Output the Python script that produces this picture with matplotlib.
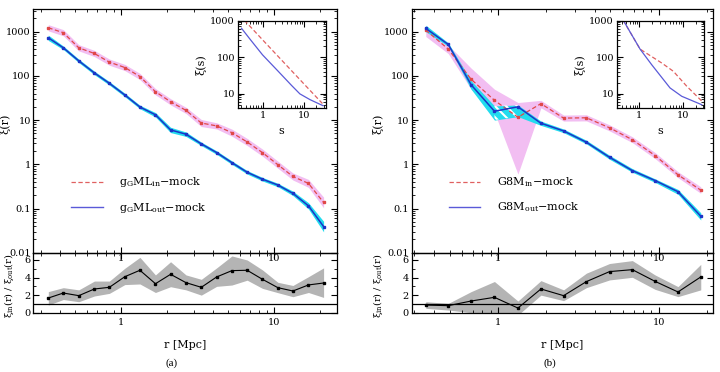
import matplotlib
matplotlib.use("Agg")
import matplotlib.pyplot as plt
import numpy as np
from matplotlib.lines import Line2D
from matplotlib.ticker import FuncFormatter, LogLocator, MultipleLocator, NullFormatter

plt.rcParams["font.family"] = ["DejaVu Serif"]
plt.rcParams["mathtext.fontset"] = "dejavuserif"
plt.rcParams["hatch.linewidth"] = 1.5

# ---- panel (a): gGML ----
r_a = [0.335, 0.42, 0.53, 0.67, 0.84, 1.06, 1.33, 1.68, 2.11, 2.66,
       3.35, 4.22, 5.31, 6.68, 8.41, 10.6, 13.3, 16.8, 21.1]
xi_in_a = [1230, 950, 433, 322, 205, 155, 97, 44, 26, 16.6,
           8.6, 7.4, 5.2, 3.2, 1.84, 0.98, 0.53, 0.37, 0.137]
xi_out_a = [730, 433, 219, 117, 68, 37, 19.8, 13.2, 6.0, 4.8,
            2.9, 1.84, 1.09, 0.66, 0.46, 0.34, 0.22, 0.115, 0.039]
# half-width of the bands, in dex
err_in_a = [0.07, 0.07, 0.07, 0.07, 0.07, 0.07, 0.07, 0.07, 0.07, 0.07,
            0.08, 0.07, 0.08, 0.08, 0.08, 0.08, 0.08, 0.09, 0.12]
err_out_a = [0.06, 0.04, 0.04, 0.04, 0.04, 0.04, 0.04, 0.05, 0.06, 0.05,
             0.04, 0.04, 0.04, 0.04, 0.04, 0.04, 0.05, 0.07, 0.12]
ratio_a = [1.67, 2.24, 1.94, 2.70, 2.89, 4.10, 4.83, 3.30, 4.37, 3.42,
           2.89, 4.07, 4.79, 4.83, 3.80, 2.85, 2.47, 3.16, 3.38]
ratio_a_hi = [2.4, 2.85, 2.6, 3.6, 3.6, 5.06, 6.3, 4.3, 5.8, 4.3,
              3.8, 5.1, 6.46, 6.0, 4.87, 3.46, 3.1, 4.1, 5.1]
ratio_a_lo = [0.87, 1.5, 1.25, 1.9, 2.2, 3.2, 3.27, 2.3, 2.96, 2.6,
              2.0, 3.0, 3.15, 3.7, 2.77, 2.28, 1.82, 2.3, 1.74]
s_in_a = [0.28, 1.0, 10.0, 28.0]
xis_in_a = [1410, 300, 18.6, 5.4]
s_out_a = [0.31, 0.5, 1.0, 2.4, 5.0, 8.0, 14.0, 29.0]
xis_out_a = [620, 310, 116, 41, 17, 9.9, 6.9, 4.7]

# ---- panel (b): G8M ----
r_b = [0.355, 0.49, 0.68, 0.95, 1.33, 1.85, 2.56, 3.55, 4.95, 6.86, 9.5, 13.2, 18.3]
xi_in_b = [1090, 404, 84, 28, 11.6, 23.6, 11.1, 11.3, 6.7, 3.6, 1.58, 0.58, 0.26]
in_b_hi = [1300, 500, 150, 50, 25, 28, 13, 13.2, 7.8, 4.2, 1.85, 0.68, 0.31]
in_b_lo = [780, 320, 50, 15, 0.6, 19, 9.5, 9.6, 5.7, 3.1, 1.35, 0.5, 0.22]
xi_out_b = [1190, 515, 63, 15.9, 20, 8.5, 5.7, 3.16, 1.44, 0.72, 0.43, 0.24, 0.067]
out_b_hi = [1400, 560, 78, 21, 22, 9.5, 6.3, 3.5, 1.6, 0.8, 0.47, 0.27, 0.08]
out_b_lo = [1000, 470, 50, 10, 12, 7.6, 5.2, 2.9, 1.3, 0.66, 0.39, 0.21, 0.055]
ratio_b = [0.87, 0.80, 1.33, 1.75, 0.53, 2.70, 1.94, 3.54, 4.68, 4.90, 3.57, 2.36, 4.07]
ratio_b_hi = [1.25, 1.06, 2.4, 3.55, 1.33, 3.65, 2.6, 4.5, 5.6, 5.93, 4.3, 2.97, 5.5]
ratio_b_lo = [0.5, 0.3, 0.0, -0.2, -0.27, 2.0, 1.37, 2.85, 3.73, 4.03, 2.66, 1.83, 2.6]
s_in_b = [0.35, 0.43, 1.04, 3.3, 6.1, 12.4, 27.5]
xis_in_b = [1500, 1000, 166, 69, 41, 16, 6.3]
s_out_b = [0.35, 0.43, 1.04, 1.93, 5.1, 9.5, 27.5]
xis_out_b = [1500, 1000, 166, 62, 14.4, 8.5, 5.0]

labels_a = ["g$_{\\rm G}$ML$_{\\rm in}$\u2212mock", "g$_{\\rm G}$ML$_{\\rm out}$\u2212mock"]
labels_b = ["G8M$_{\\rm in}$\u2212mock", "G8M$_{\\rm out}$\u2212mock"]

RED = "#e04848"
BLUE = "#1c34c8"
PINK = "#f2bef2"
CYAN = "#22dcee"
GRAY = "#b4b4b4"
LEG_RED = "#e06060"
LEG_BLUE = "#5a5ad8"

fmt = FuncFormatter(lambda v, p: f"{v:g}")


def style_log_axis(ax, size=7):
    ax.tick_params(which="both", direction="in", top=True, right=True, labelsize=size, pad=2)
    ax.tick_params(which="major", length=4.5, width=0.8)
    ax.tick_params(which="minor", length=2.2, width=0.6)
    for sp in ax.spines.values():
        sp.set_linewidth(0.9)


def panel(x0, w, r, xi_in, in_lo, in_hi, xi_out, out_lo, out_hi,
          ratio, ratio_lo, ratio_hi, xlim, inset_box, inset_xlim,
          s_in, xis_in, s_out, xis_out, labels, caption, cap_x, ylab_x, rlab_x,
          hatch_seg=None):
    ax = fig.add_axes([x0, 0.3207, w, 0.654])
    rax = fig.add_axes([x0, 0.1594, w, 0.1613])
    ax.set_zorder(3)
    ax.patch.set_alpha(0)

    ax.fill_between(r, in_lo, in_hi, color=PINK, lw=0, zorder=1)
    ax.fill_between(r, out_lo, out_hi, color=CYAN, lw=0, zorder=2)
    if hatch_seg is not None:
        i, j = hatch_seg
        ax.fill_between(r[i:j], out_lo[i:j], out_hi[i:j], facecolor="none",
                        edgecolor="white", hatch="\\\\\\", lw=0, zorder=2.5)
    ax.plot(r, xi_in, color=RED, lw=0.9, dashes=(3.5, 2), marker="s", ms=2, zorder=3)
    ax.plot(r, xi_out, color=BLUE, lw=1.1, marker="s", ms=2, zorder=4)

    ax.set_xscale("log")
    ax.set_yscale("log")
    ax.set_xlim(*xlim)
    ax.set_ylim(0.01, 3200)
    ax.yaxis.set_major_locator(LogLocator(base=10, numticks=10))
    ax.yaxis.set_major_formatter(fmt)
    ax.xaxis.set_major_formatter(fmt)
    ax.xaxis.set_minor_formatter(NullFormatter())
    style_log_axis(ax)
    ax.tick_params(axis="x", pad=1)
    ax.set_ylabel("\u03be(r)", fontsize=8)
    ax.yaxis.set_label_coords(ylab_x, 0.53)

    handles = [Line2D([], [], color=LEG_RED, lw=0.9, dashes=(3.5, 2)),
               Line2D([], [], color=LEG_BLUE, lw=1.0)]
    ax.legend(handles, labels, loc="center left", bbox_to_anchor=(0.125, 0.237),
              frameon=False, fontsize=8, handlelength=2.8, handletextpad=1.5,
              labelspacing=1.0, borderpad=0, borderaxespad=0)

    # inset with xi(s)
    iax = fig.add_axes(inset_box)
    iax.set_zorder(4)
    iax.plot(s_in, xis_in, color=LEG_RED, lw=0.9, dashes=(3.5, 2))
    iax.plot(s_out, xis_out, color=LEG_BLUE, lw=0.9)
    iax.set_xscale("log")
    iax.set_yscale("log")
    iax.set_xlim(*inset_xlim)
    iax.set_ylim(4, 1000)
    iax.xaxis.set_major_formatter(fmt)
    iax.yaxis.set_major_formatter(fmt)
    iax.xaxis.set_minor_formatter(NullFormatter())
    style_log_axis(iax)
    iax.set_ylabel("\u03be(s)", fontsize=8, labelpad=3)
    iax.set_xlabel("s", fontsize=8, labelpad=4)

    # ratio panel
    rax.fill_between(r, ratio_lo, ratio_hi, color=GRAY, lw=0)
    rax.axhline(1, color="black", lw=0.9)
    rax.plot(r, ratio, color="black", lw=0.8, marker="s", ms=1.8)
    rax.set_xscale("log")
    rax.set_xlim(*xlim)
    rax.set_ylim(0, 6.83)
    rax.yaxis.set_major_locator(MultipleLocator(2))
    rax.yaxis.set_minor_locator(MultipleLocator(1))
    rax.xaxis.set_major_formatter(fmt)
    rax.xaxis.set_minor_formatter(NullFormatter())
    style_log_axis(rax)
    rax.tick_params(axis="x", pad=4)
    rax.set_ylabel("\u03be$_{\\rm in}$(r) / \u03be$_{\\rm out}$(r)", fontsize=7)
    rax.yaxis.set_label_coords(rlab_x, 0.45)
    rax.set_xlabel("r [Mpc]", fontsize=8)
    rax.xaxis.set_label_coords(0.5, -0.46)

    fig.text(cap_x, 1 - 363 / 372, caption, family="Liberation Serif", fontsize=8,
             ha="center", va="center")


fig = plt.figure(figsize=(7.2, 3.72), dpi=100)

panel(0.0465, 0.4215, r_a, xi_in_a,
      [v * 10 ** -e for v, e in zip(xi_in_a, err_in_a)],
      [v * 10 ** e for v, e in zip(xi_in_a, err_in_a)],
      xi_out_a,
      [v * 10 ** -e for v, e in zip(xi_out_a, err_out_a)],
      [v * 10 ** e for v, e in zip(xi_out_a, err_out_a)],
      ratio_a, ratio_a_lo, ratio_a_hi, (0.268, 25.8),
      [0.330, 0.709, 0.1226, 0.2355], (0.25, 34),
      s_in_a, xis_in_a, s_out_a, xis_out_a, labels_a, "(a)", 172 / 720, -0.075, -0.058)

panel(0.5718, 0.418, r_b, xi_in_b, in_b_lo, in_b_hi, xi_out_b, out_b_lo, out_b_hi,
      ratio_b, ratio_b_lo, ratio_b_hi, (0.29, 21.7),
      [0.8565, 0.709, 0.1213, 0.2355], (0.30, 31),
      s_in_b, xis_in_b, s_out_b, xis_out_b, labels_b, "(b)", 550 / 720, -0.095, -0.09,
      hatch_seg=(3, 5))

fig.savefig("out.png", dpi=100)
